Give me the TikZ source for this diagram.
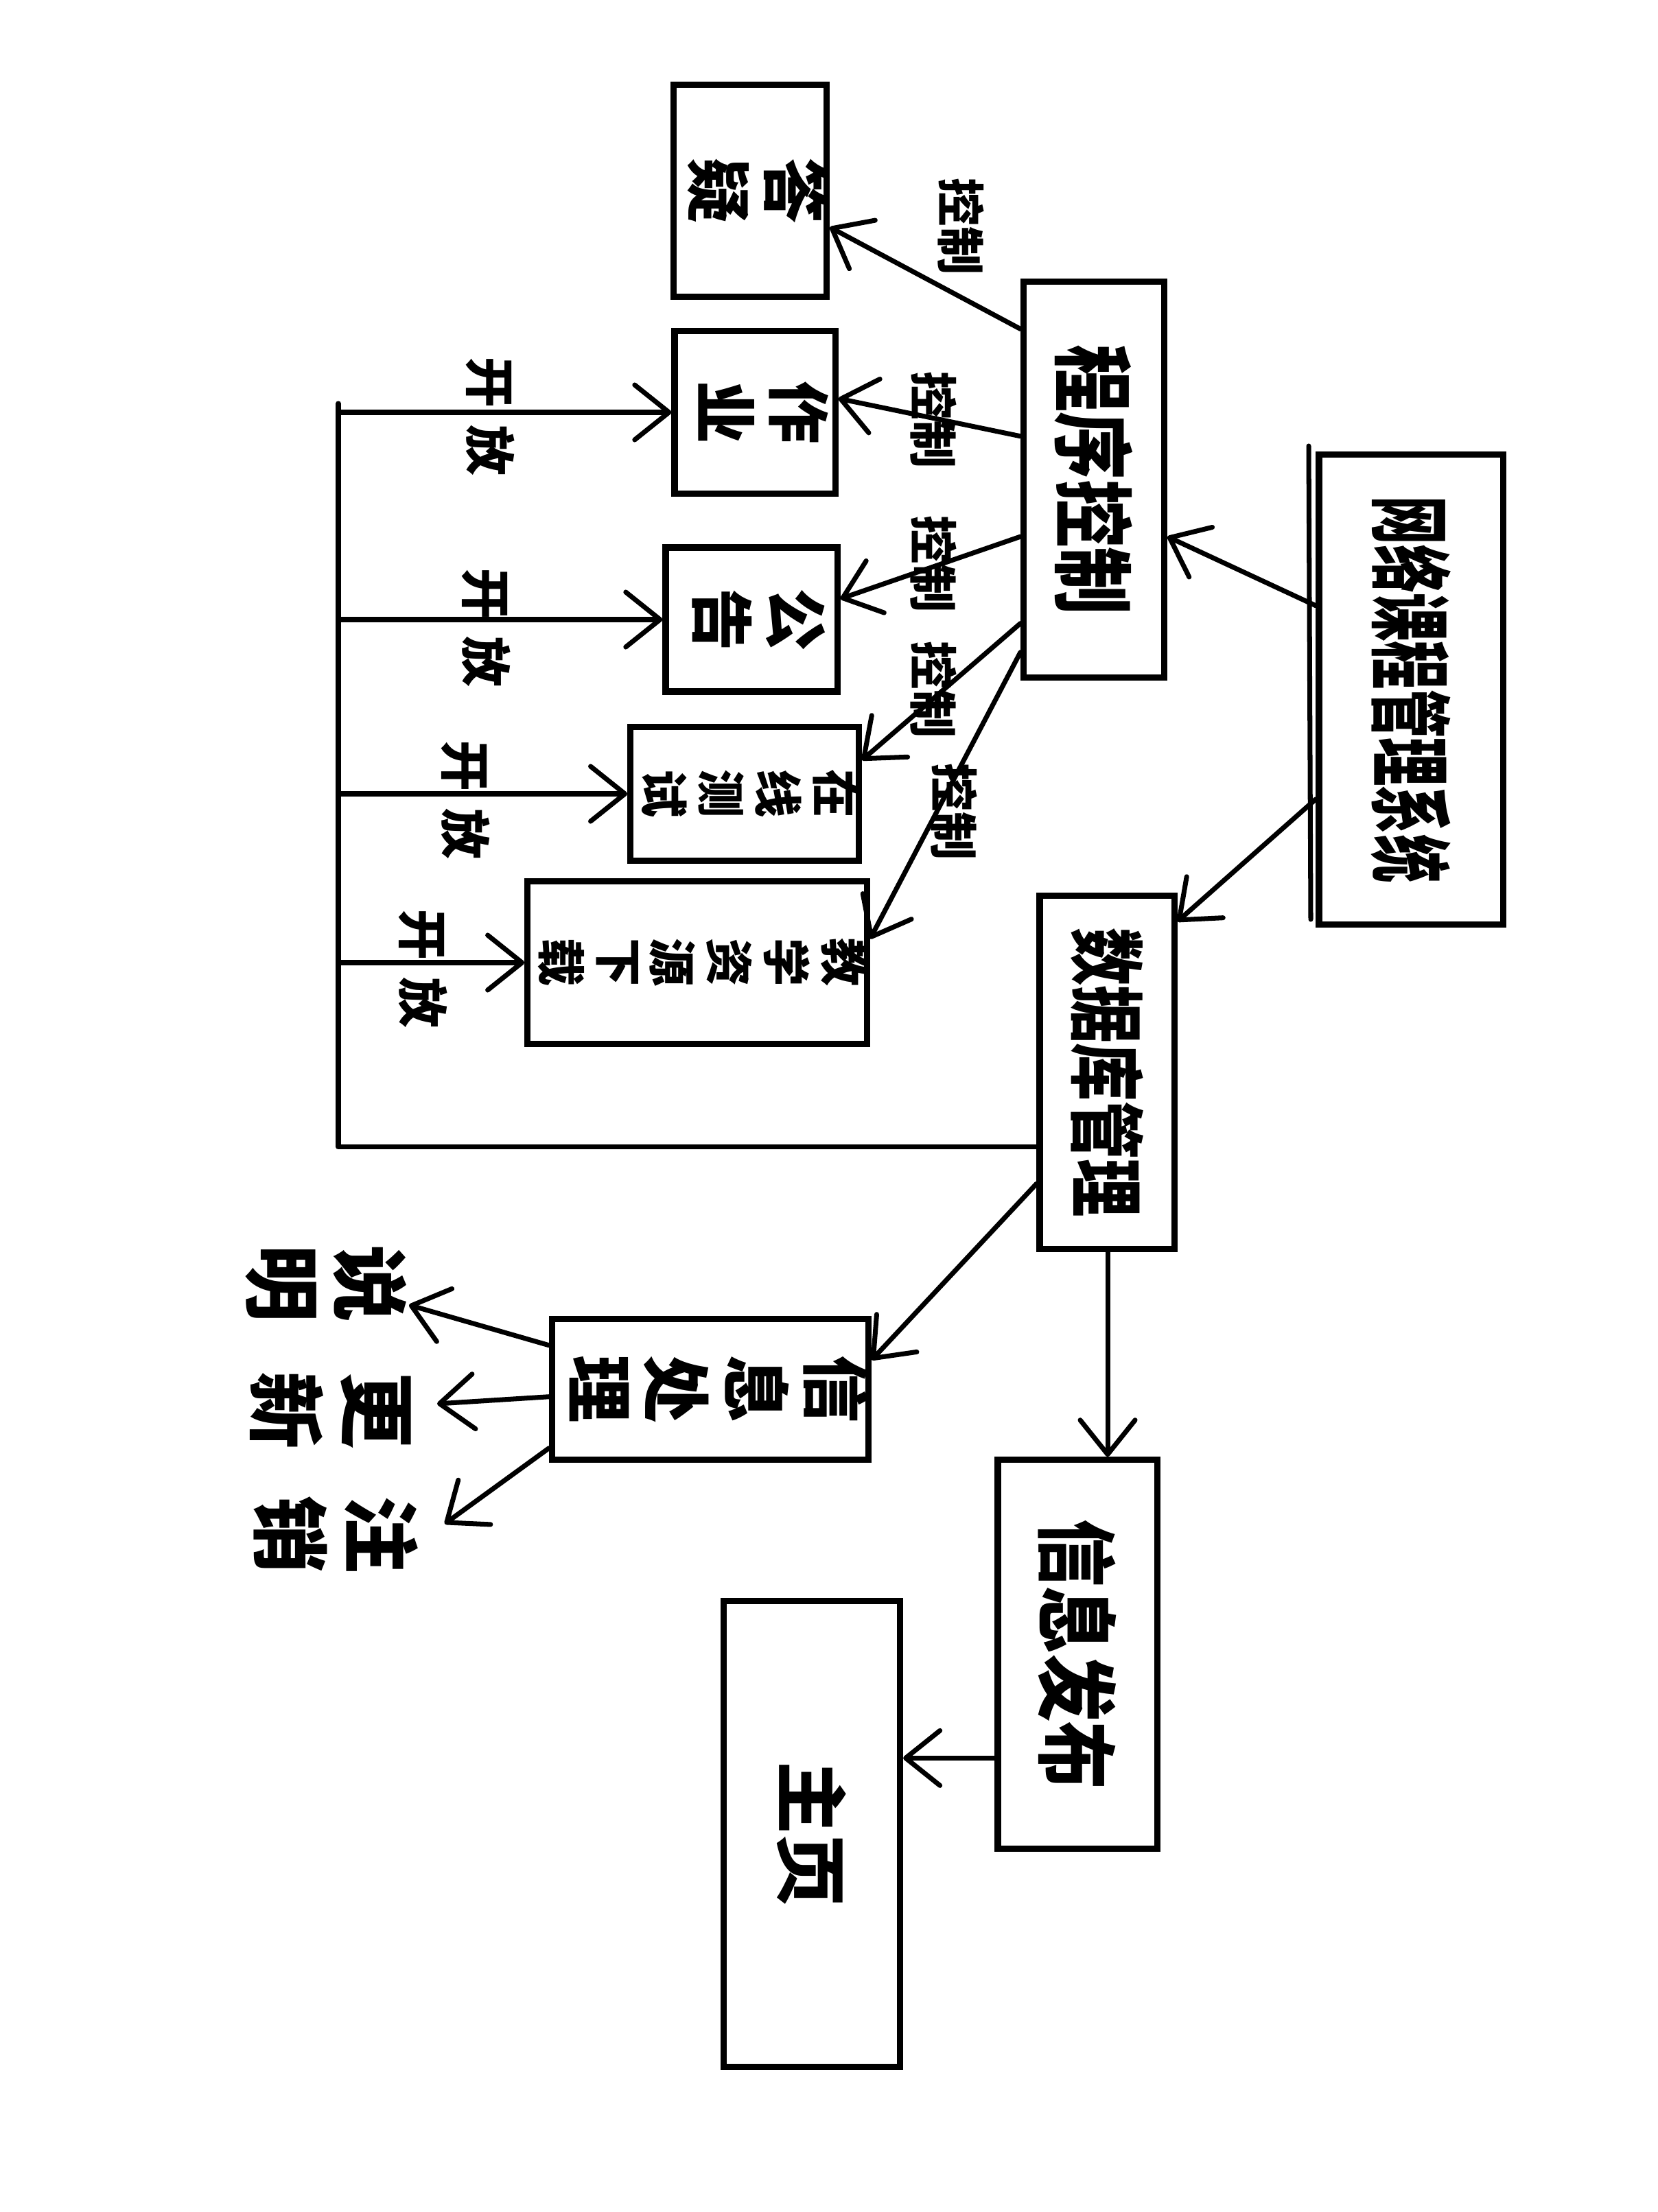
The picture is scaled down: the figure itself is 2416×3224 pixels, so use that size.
\documentclass[tikz,border=0pt]{standalone}
\usepackage{fontspec}
\newfontfamily\cjk{Noto Sans CJK SC}
\usetikzlibrary{arrows.meta,calc}
\newcommand{\fs}[2]{\fontsize{#1}{#2}\selectfont}
\newcommand{\hz}[1]{\rotatebox{-90}{#1}}
\newcommand{\vt}[1]{\rotatebox{-90}{\begin{tabular}{@{}c@{}}#1\end{tabular}}}
\begin{document}
\begin{tikzpicture}[x=0.01cm,y=-0.01cm,
  box/.style={draw, line width=2.6pt, inner sep=0pt, font=\cjk\bfseries},
  conn/.style={line width=2pt, line cap=round, line join=round},
  arr/.style={conn, -{Straight Barb[length=5mm,width=8mm,round]}},
  lbl/.style={inner sep=0pt, font=\cjk\bfseries}]
\useasboundingbox[fill=white] (0,0) rectangle (2416,3224);

% boxes
\node[box, minimum width=2.68cm, minimum height=6.85cm] (M) at (2056,1005) {\fs{20}{24}\hz{\scalebox{1}[1.7]{网络课程管理系统}}};
\node[box, minimum width=2.05cm, minimum height=5.76cm] (P) at (1594,699) {\fs{28}{32}\hz{\scalebox{1}[1.2]{程序控制}}};
\node[box, minimum width=1.96cm, minimum height=5.14cm] (Dt) at (1613,1563) {\fs{24}{28}\hz{\scalebox{1}[1.3]{数据库管理}}};
\node[box, minimum width=2.32cm, minimum height=5.66cm] (I) at (1570,2411) {\fs{28}{32}\hz{\scalebox{1}[1.2]{信息发布}}};
\node[box, minimum width=2.57cm, minimum height=6.78cm] (H) at (1183,2673) {\fs{30}{34}\hz{主页}};
\node[box, minimum width=4.46cm, minimum height=2.05cm] (S) at (1035,2025) {\fs{28}{30}\vt{信\\息\\处\\理}};
\node[box, minimum width=2.00cm, minimum height=3.09cm] (A) at (1093,278) {\fs{27}{29}\vt{答\\疑}};
\node[box, minimum width=2.34cm, minimum height=2.37cm] (B) at (1100,601) {\fs{26}{28}\vt{作\\业}};
\node[box, minimum width=2.50cm, minimum height=2.10cm] (C) at (1095,903) {\fs{26}{28}\vt{公\\告}};
\node[box, minimum width=3.19cm, minimum height=1.95cm] (D) at (1085,1157) {\fs{20}{22}\vt{在\\线\\测\\试}};
\node[box, minimum width=4.77cm, minimum height=2.37cm] (E) at (1016,1403) {\fs{20}{22}\vt{教\\学\\资\\源\\下\\载}};

% doubled left edge of the main box
\draw[conn] (1907,650) -- (1910,1340);

% main connectors
\draw[arr] ($(M.north west)!0.324!(M.south west)$) -- ($(P.north east)!0.642!(P.south east)$);
\draw[arr] ($(M.north west)!0.730!(M.south west)$) -- ($(Dt.north east)!0.08!(Dt.south east)$);

% program box to modules
\draw[arr] ($(P.north west)!0.125!(P.south west)$) -- ($(A.north east)!0.667!(A.south east)$);
\draw[arr] ($(P.north west)!0.392!(P.south west)$) -- ($(B.north east)!0.418!(B.south east)$);
\draw[arr] ($(P.north west)!0.642!(P.south west)$) -- ($(C.north east)!0.362!(C.south east)$);
\draw[arr] ($(P.north west)!0.858!(P.south west)$) -- ($(D.north east)!0.26!(D.south east)$);
\draw[arr] ($(P.north west)!0.93!(P.south west)$) -- ($(E.north east)!0.36!(E.south east)$);

\node[lbl] (la) at (1400,330) {\fs{20}{22}\hz{控制}};
\node[lbl] (lb) at (1360,612) {\fs{20}{22}\hz{控制}};
\node[lbl] (lc) at (1360,822) {\fs{20}{22}\hz{控制}};
\node[lbl] (ld) at (1360,1005) {\fs{20}{22}\hz{控制}};
\node[lbl] (le) at (1390,1183) {\fs{20}{22}\hz{控制}};

% bus from data box
\coordinate (busBL) at (493,1670);
\coordinate (busTop) at (493,588);
\draw[conn] ($(Dt.north west)!0.708!(Dt.south west)$) coordinate (d11) -- (d11 -| busBL) -- (busTop);
\draw[arr] (busTop |- B.west) -- (B.west);
\draw[arr] (busTop |- C.west) -- (C.west);
\draw[arr] (busTop |- D.west) -- (D.west);
\draw[arr] (busTop |- E.west) -- (E.west);

\node[lbl] (kb) at (715,607) {\fs{21}{23}\hz{开\hspace{0.35em}放}};
\node[lbl] (kc) at (709,915) {\fs{21}{23}\hz{开\hspace{0.35em}放}};
\node[lbl] (kd) at (679,1166) {\fs{21}{23}\hz{开\hspace{0.35em}放}};
\node[lbl] (ke) at (617,1412) {\fs{21}{23}\hz{开\hspace{0.35em}放}};

% data box to the lower boxes
\draw[arr] ($(Dt.north west)!0.81!(Dt.south west)$) -- ($(S.north east)!0.3!(S.south east)$);
\draw[arr] ($(Dt.south west)!0.505!(Dt.south east)$) coordinate (d9) -- (d9 |- I.north);
\draw[arr] ($(I.north west)!0.763!(I.south west)$) coordinate (i10) -- (i10 -| H.east);

% outputs of the processing box
\node[lbl] (O1) at (463,1871) {\fs{32}{34}\vt{说\\明}};
\node[lbl] (O2) at (469,2056) {\fs{32}{34}\vt{更\\新}};
\node[lbl] (O3) at (477,2237) {\fs{32}{34}\vt{注\\销}};
\coordinate (t1) at (596,1902);
\coordinate (t2) at (637,2046);
\coordinate (t3) at (648,2221);
\draw[arr] ($(S.north west)!0.2!(S.south west)$) -- (t1);
\draw[arr] ($(S.north west)!0.55!(S.south west)$) -- (t2);
\draw[arr] ($(S.north west)!0.9!(S.south west)$) -- (t3);
\end{tikzpicture}
\end{document}
